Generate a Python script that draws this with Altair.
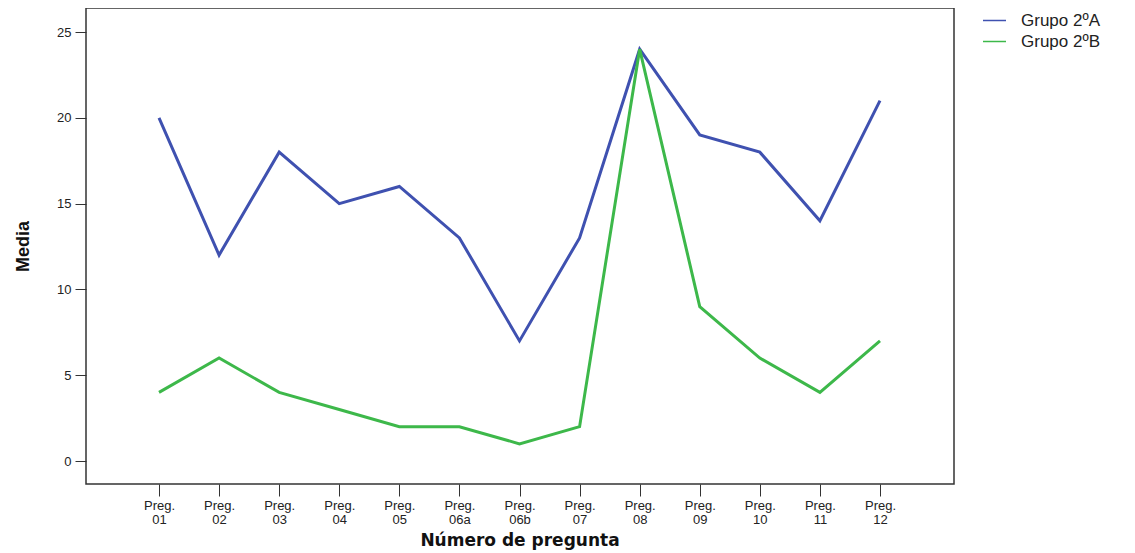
import altair as alt
import pandas as pd

preguntas = ["Preg. 01", "Preg. 02", "Preg. 03", "Preg. 04", "Preg. 05", "Preg. 06a",
             "Preg. 06b", "Preg. 07", "Preg. 08", "Preg. 09", "Preg. 10", "Preg. 11", "Preg. 12"]
grupo_a = [20, 12, 18, 15, 16, 13, 7, 13, 24, 19, 18, 14, 21]
grupo_b = [4, 6, 4, 3, 2, 2, 1, 2, 24, 9, 6, 4, 7]
series = ["Grupo 2ºA", "Grupo 2ºB"]
colors = ["#3F51B0", "#3DB84A"]

rows = []
for p, a, b in zip(preguntas, grupo_a, grupo_b):
    rows.append({"pregunta": p, "media": a, "grupo": series[0]})
    rows.append({"pregunta": p, "media": b, "grupo": series[1]})
df = pd.DataFrame(rows)

chart = alt.Chart(df).mark_line(strokeWidth=3).encode(
    x=alt.X("pregunta:N", sort=preguntas, title="Número de pregunta",
            scale=alt.Scale(type="point", padding=0, range=[73, 794]),
            axis=alt.Axis(labelExpr="split(datum.label, ' ')", labelAngle=0,
                          domain=False, tickSize=12, tickColor="#333",
                          labelFont="Liberation Sans", labelFontSize=13, labelColor="#222",
                          labelLineHeight=14, labelPadding=3,
                          titleFont="DejaVu Sans", titleFontSize=17, titleFontWeight="bold",
                          titleColor="#111", titlePadding=6, grid=False)),
    y=alt.Y("media:Q", title="Media",
            scale=alt.Scale(domain=[-1.34, 26.4], nice=False, zero=False),
            axis=alt.Axis(values=[0, 5, 10, 15, 20, 25], domain=False, tickSize=11,
                          tickColor="#333", labelFont="Liberation Sans", labelFontSize=13,
                          labelColor="#222", labelPadding=4, grid=False,
                          titleFont="Liberation Sans Narrow, Liberation Sans", titleFontSize=18,
                          titleFontWeight="bold", titleColor="#111", titlePadding=24)),
    color=alt.Color("grupo:N", scale=alt.Scale(domain=series, range=colors),
                    legend=alt.Legend(title=None, orient="none", legendX=896, legendY=0,
                                      symbolType="stroke", symbolStrokeWidth=1.5,
                                      symbolSize=529, labelFont="Liberation Sans",
                                      labelFontSize=17, labelColor="#222", rowPadding=0,
                                      labelOffset=14)),
).properties(
    width=868, height=476,
    autosize=alt.AutoSizeParams(type="none"),
    padding={"left": 78, "top": 0, "right": 170, "bottom": 70},
).configure_view(stroke="#333", strokeWidth=1.5)

chart.save("out.html", embed_options={"renderer": "svg", "actions": False})
